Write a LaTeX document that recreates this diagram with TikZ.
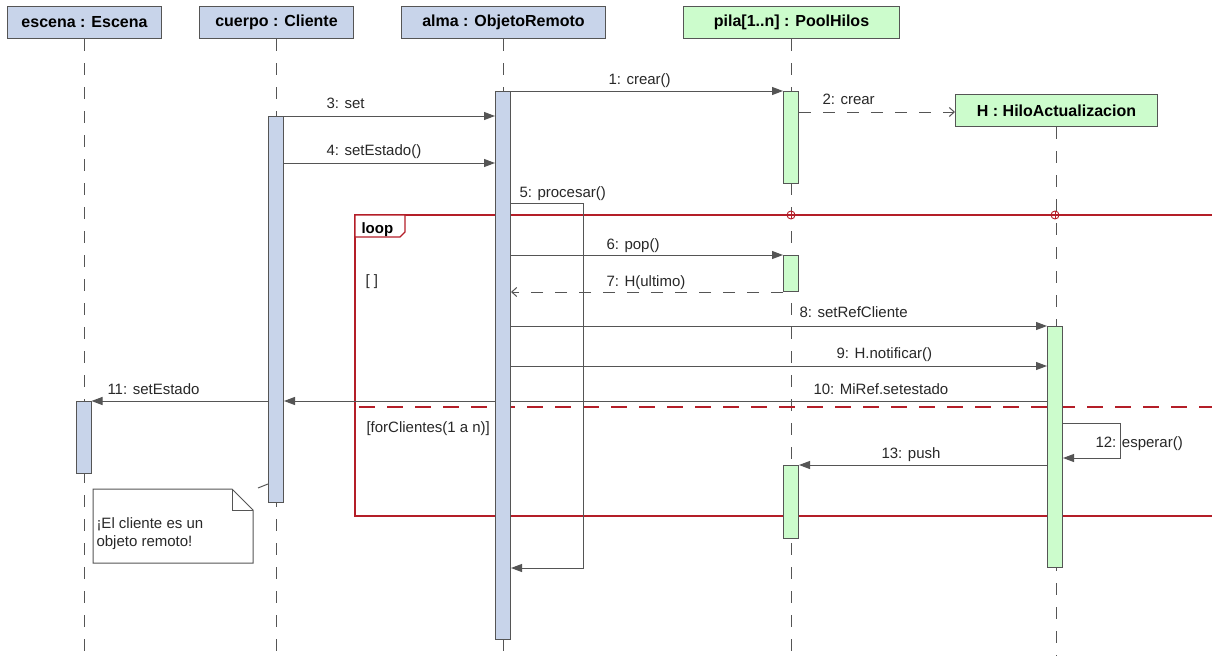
\documentclass[tikz,border=0pt]{standalone}
\usepackage{fontspec}
\setmainfont{Liberation Sans}
\usepackage{xcolor}
\usetikzlibrary{arrows.meta}
\definecolor{lineGray}{RGB}{85, 85, 85}
\definecolor{txtGray}{RGB}{40, 40, 40}
\definecolor{newblue}{RGB}{200, 212, 234}
\definecolor{newgreen}{RGB}{204, 252, 204}
\definecolor{loopred}{RGB}{180, 30, 40}

\begin{document}
\begin{tikzpicture}[x=1pt, y=-1pt, color=lineGray, line width=1pt,
  headb/.style={draw, fill=newblue, anchor=north west, inner sep=0pt, minimum height=32pt, text=black, font=\fontsize{16}{18}\selectfont\bfseries},
  headg/.style={headb, fill=newgreen},
  actb/.style={draw, fill=newblue, anchor=north, inner sep=0pt, minimum width=15pt},
  actg/.style={actb, fill=newgreen},
  life/.style={dash pattern=on 12pt off 12pt},
  msg/.style={-{Triangle[length=11pt, width=8pt]}},
  reply/.style={dash pattern=on 12pt off 12pt, -{Straight Barb[length=5pt, width=9pt]}},
  lbl/.style={anchor=base west, inner sep=0pt, text=txtGray, font=\fontsize{15}{18}\selectfont},
  frame/.style={draw=loopred, line width=1.3pt},
  crossmark/.style={draw=loopred, circle, inner sep=0pt, minimum size=8pt, line width=0.9pt}]

\fill[white] (0, 0) rectangle (1212, 656);
\useasboundingbox (0, 0) rectangle (1212, 656);

%objects
\node[headb, minimum width=154pt] at (7, 6)(escena){escena : Escena};
\node[headb, minimum width=154pt] at (199, 6)(cuerpo){cuerpo : Cliente};
\node[headb, minimum width=204pt] at (401, 6)(alma){alma : ObjetoRemoto};
\node[headg, minimum width=216pt] at (683, 6)(pila){pila[1..n] : PoolHilos};
\node[headg, minimum width=202pt] at (955, 94)(hilo){H : HiloActualizacion};

%lifelines
\draw[life] (escena.south) -- (escena.south |- 0, 656);
\draw[life] (cuerpo.south) -- (cuerpo.south |- 0, 656);
\draw[life] (alma.south) -- (alma.south |- 0, 656);
\draw[life] (pila.south) -- (pila.south |- 0, 656);
\draw[life] (hilo.south) -- (hilo.south |- 0, 656);

%loop frame
\draw[frame] (1212, 215) -- (355, 215) -- (355, 516) -- (1212, 516);
\draw[frame, dash pattern=on 16pt off 12pt] (359, 407) -- (1212, 407);

%activations
\node[actb, minimum height=548pt] at (503, 91)(aAlma){};
\node[actb, minimum height=386pt] at (276, 116)(aCuerpo){};
\node[actb, minimum height=72pt] at (83.5, 401)(aEscena){};
\node[actg, minimum height=92pt] at (791, 91)(aPila1){};
\node[actg, minimum height=36pt] at (791, 255)(aPila2){};
\node[actg, minimum height=73pt] at (791, 465)(aPila3){};
\node[actg, minimum height=241pt] at (1055, 326)(aHilo){};

%messages
\draw[msg] (aAlma.north east) -- (aPila1.north west);
\node[lbl] at (608, 84)(l1){1: crear()};
\draw[reply] (aPila1.east |- 0, 112) -- (hilo.west |- 0, 112);
\node[lbl] at (822, 104)(l2){2: crear};
\draw[msg] (aCuerpo.north east) -- (aAlma.west |- aCuerpo.north);
\node[lbl] at (326, 108)(l3){3: set};
\draw[msg] (aCuerpo.east |- 0, 163) -- (aAlma.west |- 0, 163);
\node[lbl] at (326, 155)(l4){4: setEstado()};
\draw[msg] (aAlma.east |- 0, 203) -- (583, 203) -- (583, 568) -- (aAlma.east |- 0, 568);
\node[lbl] at (519, 197)(l5){5: procesar()};
\draw[msg] (aAlma.east |- aPila2.north) -- (aPila2.north west);
\node[lbl] at (606, 249)(l6){6: pop()};
\draw[reply] (aPila2.south west) -- (aAlma.east |- aPila2.south);
\node[lbl] at (606, 286)(l7){7: H(ultimo)};
\draw[msg] (aAlma.east |- aHilo.north) -- (aHilo.north west);
\node[lbl] at (799, 317)(l8){8: setRefCliente};
\draw[msg] (aAlma.east |- 0, 366) -- (aHilo.west |- 0, 366);
\node[lbl] at (836, 358)(l9){9: H.notificar()};
\draw[msg] (aHilo.west |- aEscena.north) -- (aCuerpo.east |- aEscena.north);
\node[lbl] at (813, 394)(l10){10: MiRef.setestado};
\draw[msg] (aCuerpo.west |- aEscena.north) -- (aEscena.north east);
\node[lbl] at (107, 394)(l11){11: setEstado};
\draw[msg] (aHilo.east |- 0, 423) -- (1120, 423) -- (1120, 458) -- (aHilo.east |- 0, 458);
\node[lbl] at (1095, 447)(l12){12: esperar()};
\draw[msg] (aHilo.west |- aPila3.north) -- (aPila3.north east);
\node[lbl] at (881, 458)(l13){13: push};

%redraw activations on top
\node[actb, minimum height=548pt] at (503, 91)(aAlma){};
\node[actb, minimum height=386pt] at (276, 116)(aCuerpo){};

%loop tag and guards
\draw[frame, fill=white] (355, 215) -- (405, 215) -- (405, 232) -- (400, 237) -- (355, 237) -- cycle;
\node[anchor=base west, inner sep=0pt, text=black, font=\fontsize{15}{18}\selectfont\bfseries] at (361, 233)(loopTag){loop};
\node[lbl] at (365, 285)(g1){[ ]};
\node[lbl] at (366, 432)(g2){[forClientes(1 a n)]};
\node[crossmark] at (791, 215)(cPila){};
\node[crossmark] at (1055, 215)(cHilo){};
\draw[loopred, line width=0.9pt] (cPila.north) -- (cPila.south);
\draw[loopred, line width=0.9pt] (cHilo.north) -- (cHilo.south);

%note
\node[anchor=north west, minimum width=159pt, minimum height=73pt, inner sep=0pt] at (93, 489)(note){};
\draw[fill=white] (note.north west) -- ([xshift=-21pt]note.north east) -- ([yshift=-21pt]note.north east) -- (note.south east) -- (note.south west) -- cycle;
\draw ([xshift=-21pt]note.north east) -- ([xshift=-21pt, yshift=-21pt]note.north east) -- ([yshift=-21pt]note.north east);
\node[lbl, align=left, anchor=north west] at (96, 517)(noteTxt){¡El cliente es un\\objeto remoto!};
\coordinate (noteLink) at (258, 488);
\draw (noteLink) -- (aCuerpo.west |- 0, 484);

\end{tikzpicture}
\end{document}
